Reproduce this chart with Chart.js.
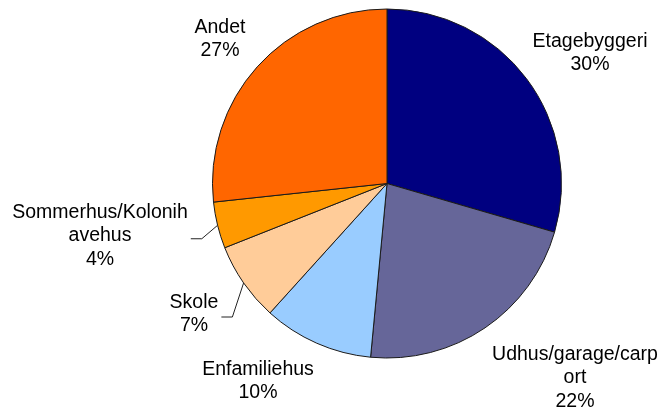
<!DOCTYPE html>
<html>
<head>
<meta charset="utf-8">
<script src="https://cdn.jsdelivr.net/npm/chart.js@4/dist/chart.umd.min.js"></script>
<style>
  html, body { margin: 0; padding: 0; background: #ffffff; }
  #wrap { width: 667px; height: 412px; }
</style>
</head>
<body>
<div id="wrap"><canvas id="c" width="667" height="412"></canvas></div>
<script>
// ---- data ----
const categories = ['Etagebyggeri', 'Udhus/garage/carport', 'Enfamiliehus', 'Skole', 'Sommerhus/Kolonihavehus', 'Andet'];
const values = [29.5, 22.0, 10.2, 7.3, 4.3, 26.7];
const colors = ['#000080', '#666699', '#99CCFF', '#FFCC99', '#FF9900', '#FF6600'];

// ---- label layout (offset of label block from pie centre, first baseline) ----
const labelDx = [203, 188, -129, -193, -287, -167];
const labelDy = [-137, 176, 191, 124, 34, -151];
const hasLeader = [false, false, false, true, true, false];
const WRAP_CHARS = 17;
const LINE_H = 23.5;
const FONT = '19.5px "Liberation Sans", Arial, sans-serif';

function wrap(s) {
  const out = [];
  for (let i = 0; i < s.length; i += WRAP_CHARS) out.push(s.slice(i, i + WRAP_CHARS));
  return out;
}

const labelPlugin = {
  id: 'pieLabels',
  afterDatasetsDraw(chart) {
    const ctx = chart.ctx;
    const meta = chart.getDatasetMeta(0);
    const total = values.reduce((a, b) => a + b, 0);
    ctx.save();
    ctx.font = FONT;
    ctx.fillStyle = '#000000';
    ctx.textAlign = 'center';
    ctx.textBaseline = 'alphabetic';
    meta.data.forEach((arc, i) => {
      const p = arc.getProps(['x', 'y', 'startAngle', 'endAngle', 'outerRadius'], true);
      const lines = wrap(categories[i]);
      lines.push(Math.round(values[i] / total * 100) + '%');
      const cx = p.x + labelDx[i];
      const y0 = p.y + labelDy[i];
      let maxW = 0;
      lines.forEach((t, k) => {
        ctx.fillText(t, cx, y0 + k * LINE_H);
        maxW = Math.max(maxW, ctx.measureText(t).width);
      });
      if (hasLeader[i]) {
        const mid = (p.startAngle + p.endAngle) / 2;
        const ex = p.x + Math.cos(mid) * p.outerRadius;
        const ey = p.y + Math.sin(mid) * p.outerRadius;
        const blockMid = y0 - 14 + (lines.length * LINE_H) / 2;
        const sx = cx + maxW / 2 + 3;
        ctx.beginPath();
        ctx.strokeStyle = '#222222';
        ctx.lineWidth = 1;
        ctx.moveTo(sx, blockMid);
        ctx.lineTo(sx + 11, blockMid);
        ctx.lineTo(ex, ey);
        ctx.stroke();
      }
    });
    ctx.restore();
  }
};

new Chart(document.getElementById('c'), {
  type: 'pie',
  data: {
    labels: categories,
    datasets: [{
      data: values,
      backgroundColor: colors,
      borderColor: '#1a1a1a',
      borderWidth: 1
    }]
  },
  options: {
    responsive: false,
    animation: false,
    layout: { padding: { left: 212, right: 105, top: 8, bottom: 53 } },
    plugins: {
      legend: { display: false },
      tooltip: { enabled: false }
    }
  },
  plugins: [labelPlugin]
});
</script>
</body>
</html>
